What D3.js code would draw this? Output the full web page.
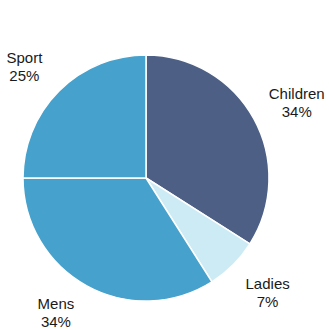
<!DOCTYPE html>
<html><head><meta charset="utf-8">
<script src="https://cdn.jsdelivr.net/npm/d3@7"></script>
<style>body{margin:0;background:#fff}svg{display:block}</style>
</head><body>
<script>
const categories = ["Children", "Ladies", "Mens", "Sport"];
const values = [34, 7, 34, 25];
const colors = ["#4d5f84", "#cdebf4", "#46a1cc", "#46a1cc"];

const W = 329, H = 330, cx = 146, cy = 178, R = 123;
const LRX = 172, LRY = 160, LINE = 18;
const svg = d3.select("body").append("svg").attr("width", W).attr("height", H);
const g = svg.append("g").attr("transform", `translate(${cx},${cy})`);
const data = categories.map((c, i) => ({c, v: values[i], col: colors[i]}));
const pie = d3.pie().value(d => d.v).sort(null);
const arc = d3.arc().innerRadius(0).outerRadius(R);
const arcs = pie(data);
g.selectAll("path").data(arcs).join("path")
  .attr("d", arc).attr("fill", d => d.data.col)
  .attr("stroke", "#fff").attr("stroke-width", 1.5);

function labelPos(d) {
  const a = (d.startAngle + d.endAngle) / 2;
  let x = LRX * Math.sin(a);
  let y = -LRY * Math.cos(a) - 2;
  const maxY = H - cy - 3 - LINE;
  if (y > maxY) {
    // slide label sideways when it would run off the bottom edge
    x += Math.sign(x) * (y - maxY);
    y = maxY;
  }
  return [x, y];
}
const lab = g.selectAll("text").data(arcs).join("text")
  .attr("transform", d => `translate(${labelPos(d)})`)
  .attr("text-anchor", "middle")
  .attr("font-family", "Liberation Sans, Arial, sans-serif")
  .attr("font-size", 15).attr("fill", "#1a1a1a");
lab.append("tspan").attr("x", 0).attr("y", 0).text(d => d.data.c);
lab.append("tspan").attr("x", 0).attr("y", LINE).text(d => d.data.v + "%");
</script>
</body></html>
